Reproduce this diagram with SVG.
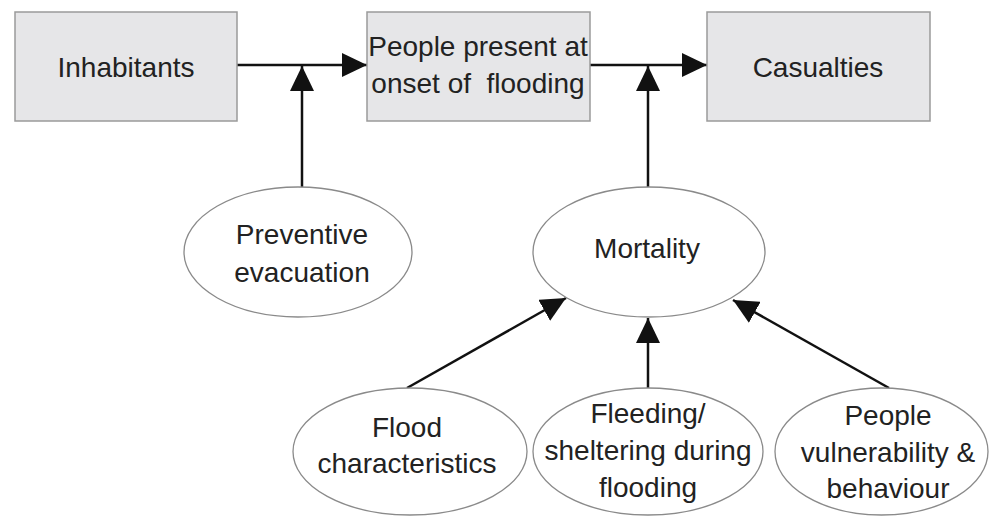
<svg xmlns="http://www.w3.org/2000/svg" width="989" height="516" viewBox="0 0 989 516">
<style>
.box{fill:#e6e6e8;stroke:#9a9a9a;stroke-width:1.5}
.ell{fill:#ffffff;stroke:#8a8a8a;stroke-width:1.3}
.lbl{font-family:"Liberation Sans",Arial,sans-serif;font-size:28px;fill:#222222;text-anchor:middle}
.con{stroke:#111111;stroke-width:2.5;fill:none;marker-end:url(#ah)}
</style>
<defs>
<marker id="ah" viewBox="0 0 25 24" refX="25" refY="12" markerWidth="25" markerHeight="24" orient="auto" markerUnits="userSpaceOnUse">
<path d="M0,0 L25,12 L0,24 Z" fill="#111111"/>
</marker>
</defs>
<rect width="989" height="516" fill="#ffffff"/>
<g id="connectors">
<line class="con" x1="237" y1="65" x2="367" y2="65"/>
<line class="con" x1="302" y1="187" x2="302" y2="66"/>
<line class="con" x1="590" y1="65" x2="707" y2="65"/>
<line class="con" x1="648" y1="187" x2="648" y2="66"/>
<line class="con" x1="407" y1="388" x2="566" y2="298"/>
<line class="con" x1="648" y1="388" x2="648" y2="318"/>
<line class="con" x1="889" y1="388" x2="733" y2="300"/>
</g>
<g id="inhabitants">
<rect class="box" x="15" y="12" width="222" height="109"/>
<text class="lbl" x="126" y="77">Inhabitants</text>
</g>
<g id="people-present">
<rect class="box" x="367" y="12" width="223" height="109"/>
<text class="lbl" x="478" y="56">People present at</text>
<text class="lbl" x="478" y="93" xml:space="preserve">onset of  flooding</text>
</g>
<g id="casualties">
<rect class="box" x="707" y="12" width="223" height="109"/>
<text class="lbl" x="818" y="77">Casualties</text>
</g>
<g id="preventive-evacuation">
<ellipse class="ell" cx="298" cy="252" rx="114" ry="65"/>
<text class="lbl" x="302" y="244">Preventive</text>
<text class="lbl" x="302" y="282">evacuation</text>
</g>
<g id="mortality">
<ellipse class="ell" cx="649" cy="252" rx="116" ry="65"/>
<text class="lbl" x="647" y="258">Mortality</text>
</g>
<g id="flood-characteristics">
<ellipse class="ell" cx="410" cy="451.5" rx="117" ry="63.5"/>
<text class="lbl" x="407" y="437">Flood</text>
<text class="lbl" x="407" y="473">characteristics</text>
</g>
<g id="fleeding-sheltering">
<ellipse class="ell" cx="648" cy="451.5" rx="115" ry="63.5"/>
<text class="lbl" x="648" y="423">Fleeding/</text>
<text class="lbl" x="648" y="460">sheltering during</text>
<text class="lbl" x="648" y="497">flooding</text>
</g>
<g id="people-vulnerability">
<ellipse class="ell" cx="881.5" cy="451.5" rx="106.5" ry="63.5"/>
<text class="lbl" x="888" y="425">People</text>
<text class="lbl" x="888" y="462">vulnerability &amp;</text>
<text class="lbl" x="888" y="498">behaviour</text>
</g>
</svg>
